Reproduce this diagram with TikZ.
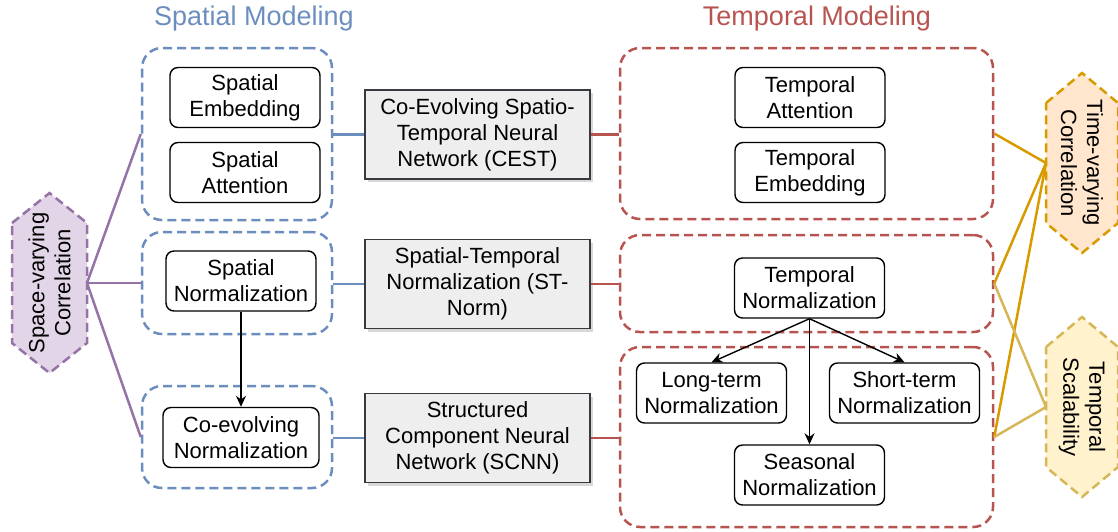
\documentclass[tikz,border=0pt]{standalone}
\usepackage{fontspec}
\setmainfont{Liberation Sans}
\usetikzlibrary{arrows.meta,shadows}
\definecolor{sblue}{HTML}{6C8EBF}
\definecolor{tred}{HTML}{B85450}
\definecolor{vpurple}{HTML}{9673A6}
\definecolor{vpurplefill}{HTML}{E1D5E7}
\definecolor{torange}{HTML}{D79B00}
\definecolor{torangefill}{HTML}{FFE6CC}
\definecolor{tsand}{HTML}{D6B656}
\definecolor{tsandfill}{HTML}{FFF2CC}
\definecolor{mgray}{HTML}{36393D}
\definecolor{mfill}{HTML}{EEEEEE}

\begin{document}
\begin{tikzpicture}[x=1pt,y=-1pt,font=\fontsize{22}{26}\selectfont,
    >={Stealth[length=11pt,width=10pt]},
    title/.style={font=\fontsize{27}{32}\selectfont},
    grp/.style={dash pattern=on 9pt off 5pt,line width=2.5pt,rounded corners=20pt,
      minimum width=#1,inner sep=0pt},
    sgrp/.style={grp=190,draw=sblue},
    tgrp/.style={grp=373,draw=tred},
    unit/.style={draw,line width=1.4pt,rounded corners=8pt,align=center,
      minimum width=150,minimum height=60,inner sep=2pt},
    model/.style={draw=mgray,fill=mfill,line width=1.4pt,align=center,
      minimum width=225,minimum height=89,inner sep=2pt,
      drop shadow={shadow xshift=3pt,shadow yshift=-3pt,fill=black!30}},
    hex/.style={dash pattern=on 9pt off 5pt,line width=2.5pt},
    link/.style={line width=2.5pt}]
  \useasboundingbox (0,0) rectangle (1118,531);
  \node[title,text=sblue] (stitle) at (254,19) {Spatial Modeling};
  \node[title,text=tred] (ttitle) at (817,19) {Temporal Modeling};
  % spatial side
  \node[sgrp,minimum height=172] (sg1) at (237,134) {};
  \node[sgrp,minimum height=102] (sg2) at (237,283) {};
  \node[sgrp,minimum height=102] (sg3) at (237,437) {};
  \node[unit] (semb) at (245,97.5) {Spatial\\Embedding};
  \node[unit] (satt) at (245,172.5) {Spatial\\Attention};
  \node[unit] (snorm) at (241,281) {Spatial\\Normalization};
  \node[unit,minimum width=156] (conorm) at (241,437.5) {Co-evolving\\Normalization};
  \draw[->,line width=1.4pt] (snorm) -- (conorm);
  % models
  \node[model] (cest) at (477.5,134.5) {Co-Evolving Spatio-\\Temporal Neural\\Network (CEST)};
  \node[model] (stn) at (477.5,284) {Spatial-Temporal\\Normalization (ST-\\Norm)};
  \node[model] (scnn) at (477.5,438) {Structured\\Component Neural\\Network (SCNN)};
  % temporal side
  \node[tgrp,minimum height=171] (tg1) at (806.5,133.5) {};
  \node[tgrp,minimum height=97] (tg2) at (806.5,283.5) {};
  \node[tgrp,minimum height=180] (tg3) at (806.5,437) {};
  \node[unit] (tatt) at (810,97.5) {Temporal\\Attention};
  \node[unit] (temb) at (810,172.5) {Temporal\\Embedding};
  \node[unit] (tnorm) at (809.5,288) {Temporal\\Normalization};
  \node[unit] (lnorm) at (711.5,393) {Long-term\\Normalization};
  \node[unit] (shnorm) at (904.5,393) {Short-term\\Normalization};
  \node[unit] (seanorm) at (809.5,475) {Seasonal\\Normalization};
  \draw[->,line width=1.4pt] (tnorm.south) -- (lnorm.north);
  \draw[->,line width=1.4pt] (tnorm.south) -- (shnorm.north);
  \draw[->,line width=1.4pt] (tnorm.south) -- (seanorm.north);
  % links to models
  \foreach \m/\g in {cest/sg1,stn/sg2,scnn/sg3}
    \draw[link,sblue] (\m.west -| \g.east) -- (\m.west);
  \foreach \m/\g in {cest/tg1,stn/tg2,scnn/tg3}
    \draw[link,tred] (\m.east) -- (\m.east -| \g.west);
  % correlation hexagons
  \draw[hex,draw=vpurple,fill=vpurplefill] (49.5,283) +(-37.5,-60) -- +(0,-90)
    -- +(37.5,-60) -- +(37.5,60) -- +(0,90) -- +(-37.5,60) -- cycle;
  \node[rotate=90,align=center] (svc) at (49.5,283) {Space-varying\\Correlation};
  \coordinate (svcpt) at (87,283);
  \draw[hex,draw=torange,fill=torangefill] (1082,163) +(-36,-60) -- +(0,-90)
    -- +(36,-60) -- +(36,60) -- +(0,90) -- +(-36,60) -- cycle;
  \node[rotate=-90,align=center] (tvc) at (1082,163) {Time-varying\\Correlation};
  \coordinate (tvcpt) at (1046,163);
  \draw[hex,draw=tsand,fill=tsandfill] (1082,407) +(-36,-60) -- +(0,-90)
    -- +(36,-60) -- +(36,60) -- +(0,90) -- +(-36,60) -- cycle;
  \node[rotate=-90,align=center] (tsc) at (1082,407) {Temporal\\Scalability};
  \coordinate (tscpt) at (1046,407);
  \foreach \g in {sg1,sg2,sg3}
    \draw[link,vpurple] (svcpt) -- (\g.west);
  \foreach \g in {tg1,tg2,tg3}
    \draw[link,torange] (tvcpt) -- (\g.east);
  \foreach \g in {tg2,tg3}
    \draw[link,tsand] (tscpt) -- (\g.east);
\end{tikzpicture}
\end{document}
